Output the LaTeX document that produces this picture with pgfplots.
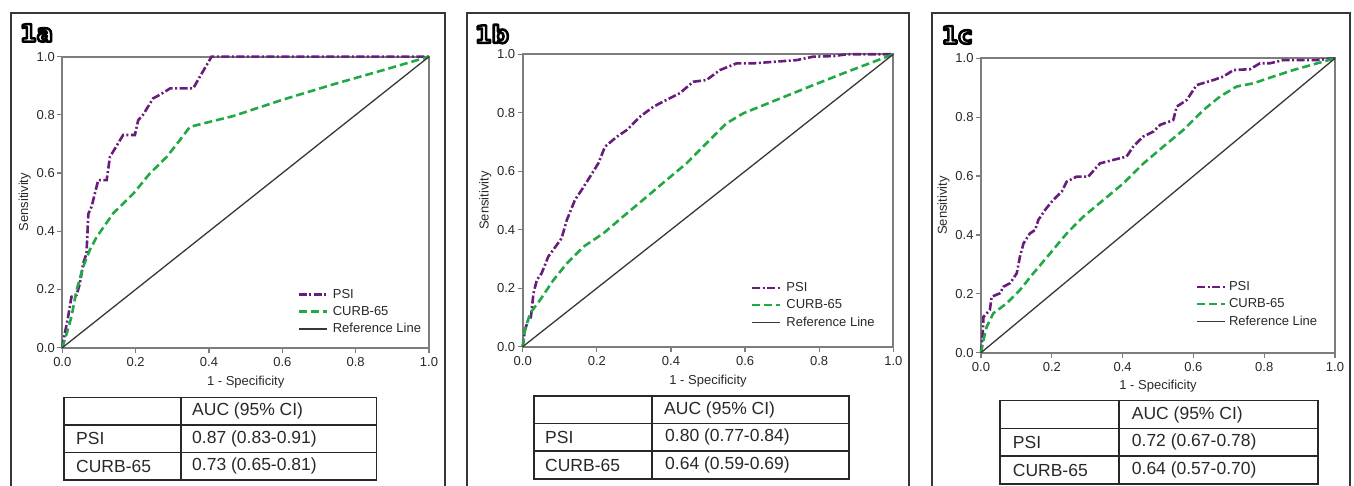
\documentclass[border=0pt]{standalone}
\usepackage{pgfplots}
\pgfplotsset{compat=1.18}
\usepackage{fontspec}
\setmainfont{Liberation Sans}
\newfontfamily\labelfont{DejaVu Sans}
\definecolor{psic}{RGB}{104,28,124}
\definecolor{curbc}{RGB}{34,168,68}
\definecolor{refc}{RGB}{55,55,55}
\definecolor{axc}{RGB}{125,125,125}
\definecolor{txc}{RGB}{40,40,40}
\definecolor{framec}{RGB}{55,55,55}
\pgfplotsset{
  rocax/.style={
    scale only axis, anchor=south west,
    xmin=0, xmax=1, ymin=0, ymax=1,
    xtick={0,0.2,0.4,0.6,0.8,1.0}, ytick={0,0.2,0.4,0.6,0.8,1.0},
    xtick pos=bottom, ytick pos=left, tick align=outside,
    major tick length=5pt,
    every tick/.style={axc, line width=1.2pt},
    axis line style={axc, line width=2pt},
    tick label style={font=\fontsize{13}{15}\selectfont, text=txc},
    xticklabel style={yshift=-1pt},
    yticklabel style={xshift=1pt},
    /pgf/number format/assume math mode=true,
    /pgf/number format/.cd, fixed, fixed zerofill, precision=1, /pgfplots/.cd,
    xlabel={1 - Specificity}, ylabel={Sensitivity},
    label style={font=\fontsize{13}{15}\selectfont, text=txc},
    xlabel style={yshift=-3pt},
    ylabel style={yshift=-1pt},
    legend cell align=left,
    legend image code/.code={\draw[##1] (0pt,0pt) -- (28pt,0pt);},
    legend style={draw=none, fill=none, font=\fontsize{13}{15}\selectfont,
      text=txc, row sep=2.5pt, anchor=north west,
      nodes={inner xsep=5pt}},
    clip=false,
  },
  psi/.style={psic, line width=2.6pt, dash pattern=on 8pt off 2.5pt on 2pt off 2.5pt},
  curb/.style={curbc, line width=2.6pt, dash pattern=on 8pt off 4pt},
  refl/.style={refc, line width=1.3pt},
}
\begin{document}
\begin{tikzpicture}[x=1pt,y=1pt]
\path[use as bounding box] (0,0) rectangle (1354,486);
% frames
\draw[framec, line width=1.4pt] (11,-5) -- (11,473) -- (445,473) -- (445,-5);
\draw[framec, line width=1.4pt] (467,-5) -- (467,473) -- (909,473) -- (909,-5);
\draw[framec, line width=1.4pt] (932,-5) -- (932,473) -- (1350,473) -- (1350,-5);
% panel labels
\foreach \lx/\ly/\lt in {36.5/453/1a, 492/452/1b, 957/451/1c}{
  \node[font=\labelfont\fontsize{24}{24}\selectfont\bfseries, inner sep=0pt] at (\lx,\ly)
    {\textcolor{white}{\special{pdf:code 0 G 2 Tr 2.6 w 1 j}\lt\special{pdf:code 0 Tr}}};
}
% ---- panel 1a
\begin{axis}[rocax, at={(62.3pt,138.3pt)}, width=366.7pt, height=291pt,
  legend style={at={(0.632,0.215)}}]
\addplot[psi] coordinates {(0,0) (0.007,0.05) (0.016,0.107) (0.025,0.175) (0.039,0.181) (0.048,0.221) (0.057,0.29) (0.066,0.324) (0.071,0.46) (0.08,0.485) (0.098,0.576) (0.121,0.576) (0.13,0.656) (0.166,0.731) (0.198,0.731) (0.207,0.782) (0.22,0.8) (0.248,0.857) (0.266,0.869) (0.294,0.891) (0.357,0.891) (0.375,0.931) (0.407,1.0) (1,1)};
\addplot[curb] coordinates {(0,0) (0.012,0.049) (0.025,0.106) (0.039,0.198) (0.057,0.278) (0.075,0.336) (0.094,0.381) (0.139,0.462) (0.194,0.53) (0.239,0.599) (0.285,0.656) (0.321,0.714) (0.348,0.759) (0.466,0.796) (0.603,0.853) (0.739,0.905) (0.87,0.952) (1,1)};
\addplot[refl] coordinates {(0,0) (1,1)};
\legend{PSI, CURB-65, Reference Line}
\end{axis}
% ---- panel 1b
\begin{axis}[rocax, at={(522.7pt,139.3pt)}, width=370.6pt, height=292.4pt,
  legend style={at={(0.607,0.233)}}]
\addplot[psi] coordinates {(0,0) (0.006,0.057) (0.015,0.091) (0.022,0.1) (0.029,0.182) (0.038,0.228) (0.051,0.251) (0.069,0.308) (0.092,0.348) (0.105,0.371) (0.119,0.433) (0.141,0.502) (0.159,0.536) (0.182,0.582) (0.204,0.627) (0.222,0.684) (0.254,0.718) (0.281,0.741) (0.317,0.787) (0.353,0.821) (0.388,0.844) (0.424,0.867) (0.46,0.906) (0.496,0.912) (0.532,0.946) (0.577,0.969) (0.622,0.969) (0.685,0.975) (0.739,0.98) (0.784,0.992) (0.84,0.994) (0.874,1.0) (1,1)};
\addplot[curb] coordinates {(0,0) (0.006,0.057) (0.02,0.114) (0.047,0.16) (0.083,0.228) (0.119,0.285) (0.164,0.342) (0.218,0.388) (0.281,0.456) (0.335,0.513) (0.388,0.57) (0.442,0.627) (0.496,0.696) (0.55,0.764) (0.595,0.798) (0.685,0.844) (0.775,0.89) (0.865,0.935) (1,1)};
\addplot[refl] coordinates {(0,0) (1,1)};
\legend{PSI, CURB-65, Reference Line}
\end{axis}
% ---- panel 1c
\begin{axis}[rocax, at={(981pt,133.3pt)}, width=354pt, height=294.4pt,
  xlabel style={yshift=1pt},
  legend style={at={(0.598,0.255)}, nodes={inner xsep=2.5pt}}]
\addplot[psi] coordinates {(0,0) (0.005,0.066) (0.007,0.122) (0.025,0.145) (0.03,0.19) (0.054,0.202) (0.063,0.224) (0.082,0.236) (0.101,0.27) (0.11,0.326) (0.12,0.371) (0.138,0.405) (0.153,0.417) (0.162,0.451) (0.181,0.485) (0.204,0.519) (0.228,0.547) (0.242,0.581) (0.27,0.598) (0.303,0.598) (0.336,0.643) (0.374,0.655) (0.411,0.666) (0.43,0.7) (0.458,0.734) (0.487,0.751) (0.506,0.774) (0.543,0.79) (0.553,0.836) (0.581,0.858) (0.609,0.909) (0.656,0.926) (0.685,0.938) (0.713,0.96) (0.76,0.963) (0.788,0.983) (0.816,0.983) (0.854,0.994) (0.948,0.994) (1,1)};
\addplot[curb] coordinates {(0,0) (0.007,0.043) (0.016,0.088) (0.035,0.134) (0.073,0.168) (0.11,0.213) (0.148,0.27) (0.195,0.337) (0.242,0.405) (0.289,0.462) (0.346,0.519) (0.402,0.575) (0.459,0.643) (0.515,0.7) (0.572,0.757) (0.628,0.824) (0.675,0.87) (0.722,0.904) (0.769,0.915) (0.826,0.938) (0.882,0.96) (1,1)};
\addplot[refl] coordinates {(0,0) (1,1)};
\legend{PSI, CURB-65, Reference Line}
\end{axis}
% ---- tables
\tikzset{tl/.style={txc, line width=1.5pt}, tt/.style={anchor=west, inner sep=0pt, text=txc, font=\fontsize{17.5}{19}\selectfont}}
% 1a
\draw[tl] (64,88.7) rectangle (376.7,6);
\draw[tl] (64,61) -- (376.7,61) (64,33.3) -- (376.7,33.3) (181,88.7) -- (181,6);
\node[tt] at (192,75) {AUC (95\% CI)};
\node[tt] at (76,47.2) {PSI};
\node[tt] at (192,47.2) {0.87 (0.83-0.91)};
\node[tt] at (76,19.6) {CURB-65};
\node[tt] at (192,19.6) {0.73 (0.65-0.81)};
% 1b
\draw[tl] (534,90) rectangle (849,7);
\draw[tl] (534,62.7) -- (849,62.7) (534,35) -- (849,35) (652,90) -- (652,7);
\node[tt] at (664,76.4) {AUC (95\% CI)};
\node[tt] at (545,48.9) {PSI};
\node[tt] at (665,48.9) {0.80 (0.77-0.84)};
\node[tt] at (545,21) {CURB-65};
\node[tt] at (665,21) {0.64 (0.59-0.69)};
% 1c
\draw[tl] (1000,85.3) rectangle (1318,2);
\draw[tl] (1000,57.7) -- (1318,57.7) (1000,30) -- (1318,30) (1119,85.3) -- (1119,2);
\node[tt] at (1131.7,71.5) {AUC (95\% CI)};
\node[tt] at (1012.7,43.9) {PSI};
\node[tt] at (1131.7,43.9) {0.72 (0.67-0.78)};
\node[tt] at (1012.7,16) {CURB-65};
\node[tt] at (1131.7,16) {0.64 (0.57-0.70)};
\end{tikzpicture}
\end{document}
